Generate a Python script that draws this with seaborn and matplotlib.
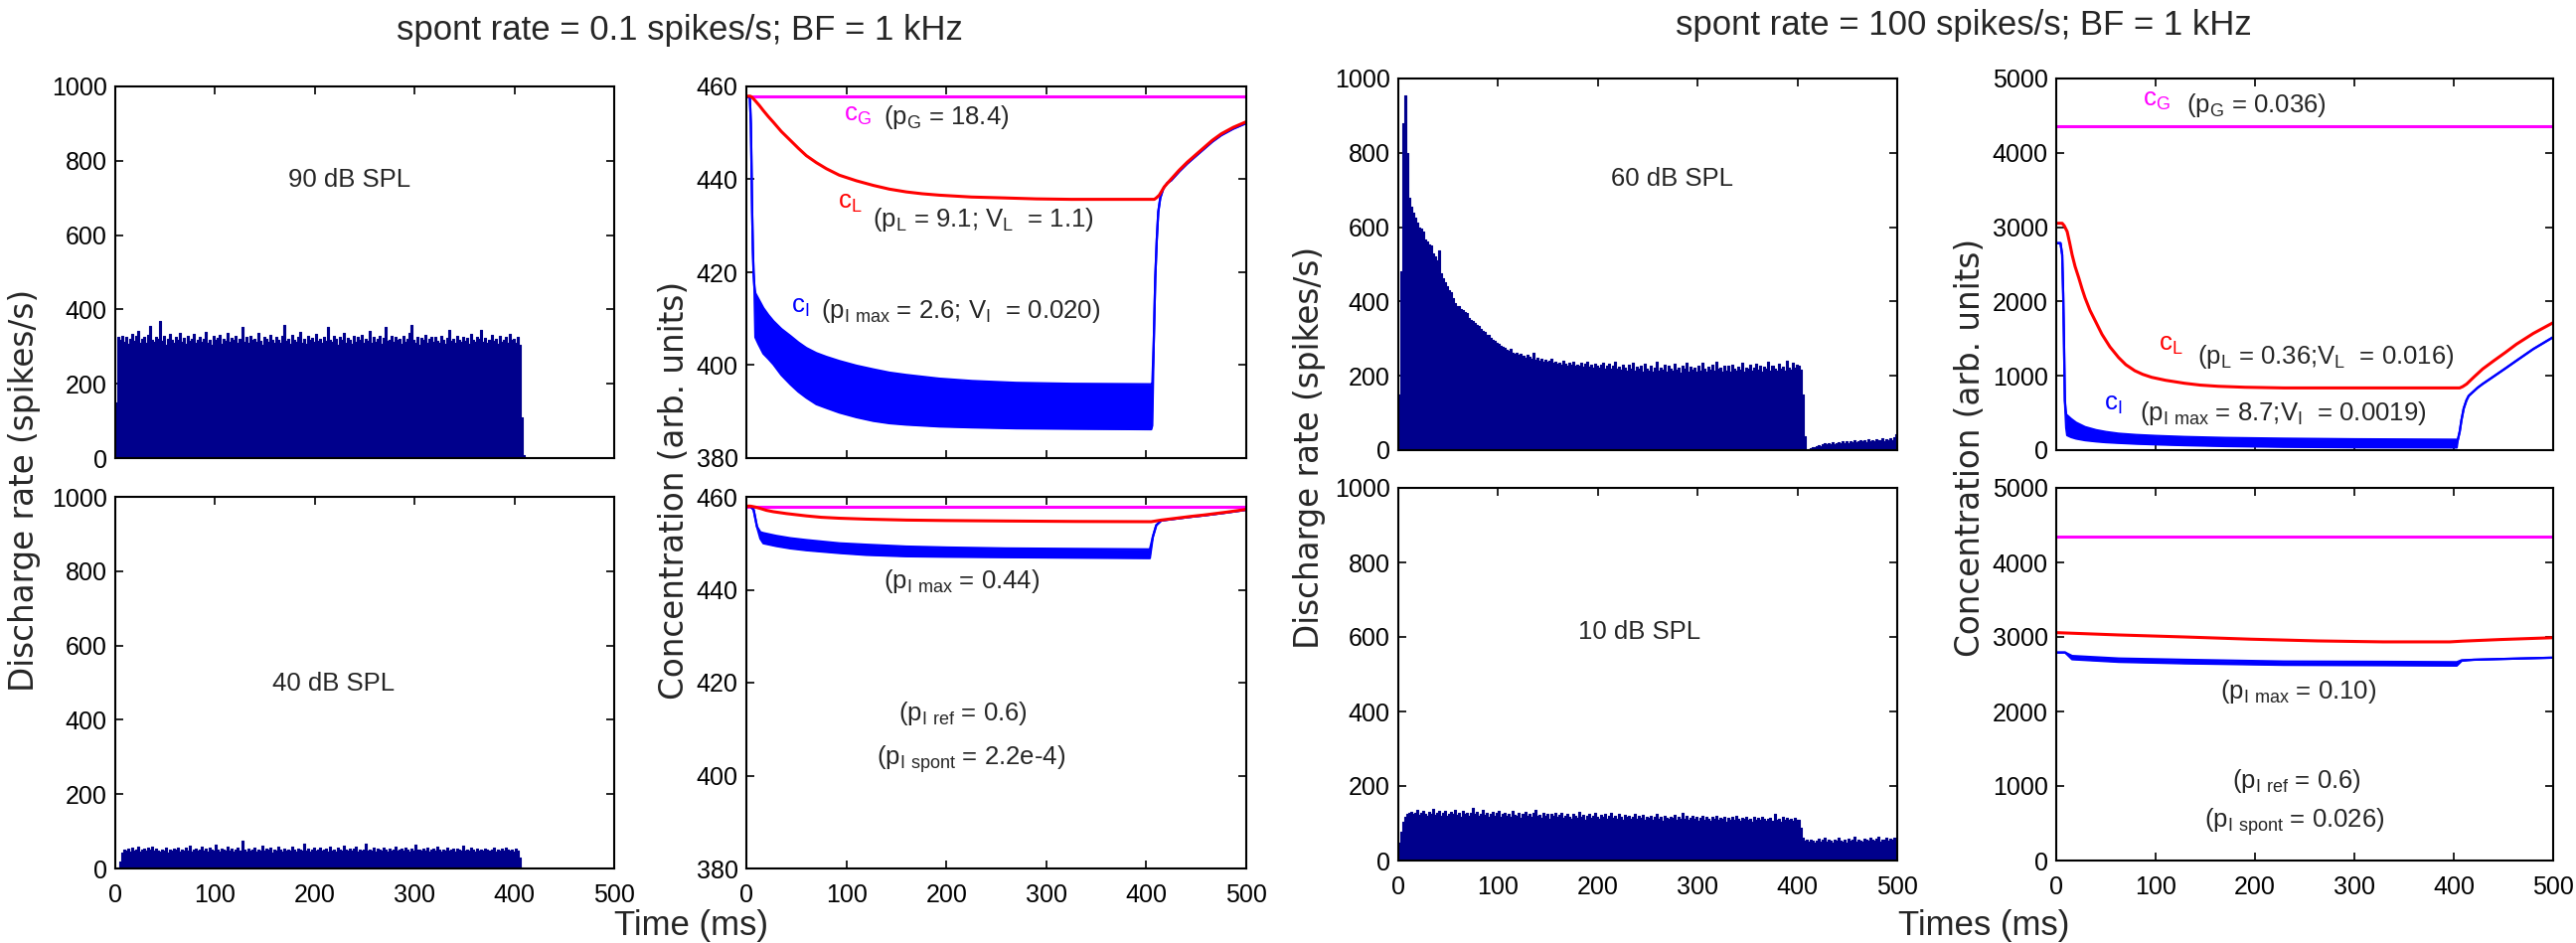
import numpy as np
import pandas as pd
import matplotlib
matplotlib.use("Agg")
import matplotlib.pyplot as plt
import seaborn as sns

# ---------------- data ----------------
BIN_MS = 2  # PSTH bin width (ms)
TIME_TICKS = [0, 100, 200, 300, 400, 500]
RATE_TICKS = [0, 200, 400, 600, 800, 1000]
CONC_TICKS_LOW = [380, 400, 420, 440, 460]
CONC_TICKS_HIGH = [0, 1000, 2000, 3000, 4000, 5000]

# spont 0.1 sp/s fiber, 90 dB SPL (2 ms bins from t = 0)
RATE_90DB = [150, 325,
    318, 330, 312, 325, 308, 322, 335, 316, 328, 342, 311, 320, 326, 309, 331, 355, 318, 314, 327, 321,
    368, 315, 329, 306, 322, 333, 317, 310, 326, 319, 338, 312, 324, 307, 329, 316, 321, 334, 309, 318,
    327, 313, 322, 340, 311, 319, 306, 328, 317, 324, 331, 308, 320, 315, 336, 312, 323, 318, 329, 310,
    321, 354, 314, 326, 309, 330, 318, 322, 312, 337, 316, 305, 327, 320, 313, 332, 319, 311, 325, 317,
    310, 328, 358, 316, 322, 308, 331, 319, 314, 326, 339, 311, 320, 307, 329, 318, 324, 312, 333, 316,
    321, 309, 327, 315, 354, 318, 312, 330, 322, 306, 325, 317, 336, 311, 323, 319, 308, 328, 314, 326,
    318, 331, 310, 322, 316, 341, 309, 325, 313, 320, 328, 307, 324, 352, 315, 319, 330, 312, 326, 317,
    322, 308, 329, 314, 321, 336, 359, 318, 311, 326, 305, 323, 317, 332, 310, 320, 327, 313, 325, 316,
    311, 328, 319, 307, 324, 345, 315, 321, 309, 330, 318, 312, 326, 316, 323, 308, 335, 319, 314, 327,
    320, 346, 312, 324, 309, 318, 331, 315, 322, 307, 328, 313, 319, 326, 311, 333, 317, 321, 310, 325,
    305, 110, 8]

# spont 0.1 sp/s fiber, 40 dB SPL
RATE_40DB = [0, 2, 18, 42,
    50, 47, 53, 45, 55, 49, 52, 58, 46, 51, 54, 48, 56, 50, 60, 47, 53, 49, 45, 52,
    48, 55, 44, 51, 47, 53, 50, 57, 46, 52, 49, 55, 48, 61, 45, 50, 54, 47, 52, 58,
    49, 53, 46, 56, 51, 48, 63, 50, 45, 54, 52, 47, 58, 49, 53, 46, 51, 55, 48, 75,
    50, 46, 54, 48, 52, 57, 45, 51, 49, 62, 47, 53, 50, 56, 44, 52, 48, 59, 51, 46,
    54, 49, 52, 47, 60, 50, 45, 53, 51, 48, 66, 49, 54, 46, 52, 57, 48, 51, 55, 47,
    50, 53, 46, 58, 49, 52, 45, 55, 51, 48, 62, 50, 47, 54, 49, 53, 58, 46, 51, 48,
    52, 67, 47, 51, 49, 55, 46, 53, 50, 48, 57, 51, 45, 54, 49, 52, 60, 47, 50, 53,
    48, 55, 51, 46, 53, 49, 63, 50, 52, 47, 54, 49, 56, 45, 51, 53, 48, 58, 50, 46,
    52, 49, 55, 47, 51, 54, 46, 53, 50, 48, 61, 49, 52, 47, 55, 50, 46, 53, 49, 51,
    47, 54, 50, 48, 52, 56, 46, 51, 49, 53, 47, 55, 50, 48, 52, 46, 54, 49,
    30, 3]

# spont 100 sp/s fiber, 60 dB SPL
RATE_60DB = [150, 480, 880, 955, 800, 680, 655, 640, 625, 612,
    600, 596, 588, 568, 562, 553, 550, 530, 522, 512,
    538, 476, 462, 452, 440, 430, 424, 410, 396, 388,
    388, 381, 377, 372, 368, 356, 351, 348, 343, 336,
    333, 326, 321, 318, 311, 309, 302, 297, 294, 288,
    287, 281, 279, 276, 270, 268, 272, 263, 259, 262,
    257, 260, 253, 249, 256, 251, 246, 262, 244, 248,
    241, 246, 239, 243, 237, 240, 245, 234, 238, 232,
    236, 229, 240, 233, 227, 235, 230, 238, 226, 231,
    228, 234, 225, 232, 239, 224, 229, 221, 233, 227,
    222, 230, 236, 219, 226, 232, 220, 228, 237, 218,
    225, 216, 231, 221, 214, 229, 219, 235, 213, 224,
    218, 227, 212, 233, 220, 215, 228, 210, 222, 238,
    214, 223, 217, 230, 211, 226, 219, 213, 232, 216,
    221, 209, 228, 218, 236, 212, 225, 217, 222, 210,
    227, 215, 234, 219, 211, 224, 216, 229, 213, 237,
    218, 222, 210, 228, 215, 226, 212, 231, 219, 214,
    225, 217, 236, 212, 223, 219, 229, 214, 221, 233,
    216, 227, 211, 224, 218, 238, 213, 226, 220, 215,
    232, 219, 225, 214, 240, 221, 217, 236, 223, 229,
    228, 217, 150, 38, 0, 2, 5, 7, 9, 11,
    14, 12, 16, 18, 15, 19, 17, 21, 16, 20,
    22, 18, 24, 20, 23, 19, 25, 21, 26, 22,
    24, 28, 23, 26, 21, 29, 25, 27, 24, 30,
    26, 28, 31, 25, 29, 27, 32, 28, 35, 44]

# spont 100 sp/s fiber, 10 dB SPL
RATE_10DB = [48, 78, 104, 116, 124,
    127, 131, 124, 129, 135, 122, 128, 133, 126, 120,
    130, 125, 138, 123, 129, 134, 121, 127, 132, 119,
    126, 131, 124, 136, 122, 128, 118, 133, 125, 129,
    121, 127, 140, 124, 130, 119, 126, 135, 122, 128,
    117, 125, 131, 120, 127, 134, 118, 124, 129, 121,
    126, 116, 132, 123, 119, 128, 114, 125, 130, 120,
    124, 117, 127, 135, 119, 123, 115, 128, 121, 126,
    113, 124, 119, 129, 116, 122, 127, 114, 120, 125,
    118, 112, 126, 121, 115, 131, 117, 123, 110, 119,
    124, 114, 120, 127, 116, 111, 122, 118, 125, 113,
    119, 128, 115, 121, 112, 124, 117, 109, 122, 116,
    120, 113, 118, 126, 111, 119, 115, 123, 108, 117,
    114, 121, 110, 118, 125, 112, 116, 107, 120, 115,
    111, 118, 114, 122, 109, 116, 112, 127, 113, 119,
    108, 115, 120, 111, 117, 106, 114, 119, 110, 116,
    113, 107, 118, 112, 121, 109, 115, 111, 117, 105,
    114, 110, 116, 108, 119, 112, 106, 115, 111, 118,
    109, 113, 104, 117, 110, 114, 108, 116, 112, 106,
    111, 115, 107, 124, 109, 113, 105, 116, 110, 114,
    108, 112, 106, 115, 109,
    110, 88, 60,
    52, 55, 50, 57, 53, 49, 54, 58, 51, 56, 62, 50, 55, 53, 48, 57, 52, 60, 54, 51,
    56, 49, 58, 53, 55, 63, 51, 57, 54, 50, 59, 55, 52, 61, 56, 53, 58, 64, 51, 57,
    55, 60, 53, 58, 56, 62, 54]

# concentrations, spont 0.1 sp/s (90 dB)
CG_LOW = 457.9
E_T_L = [0, 4, 6, 9, 13, 17, 22, 27, 35, 44, 52, 60, 70, 80, 93, 110, 127, 143, 160, 176, 193,
         225, 259, 290, 325, 408, 410, 413, 418, 425, 433, 441, 450, 458, 466, 475, 487, 500]
E_C_L = [457.9, 457.9, 457.6, 456.9, 455.9, 454.8, 453.5, 452.3, 450.3, 448.4, 446.7, 445.1, 443.6,
         442.3, 440.9, 439.7, 438.7, 437.9, 437.3, 436.9, 436.6, 436.2, 436.0, 435.8, 435.7, 435.7,
         436.0, 436.6, 438.4, 440.1, 442.0, 443.7, 445.4, 446.9, 448.4, 449.8, 451.2, 452.4]
E_T_I = [0, 3.5, 4.5, 5, 5.8, 6.5, 7.2, 8, 9, 12, 17, 22, 27, 35, 44, 52, 60, 70, 80, 93, 110,
         127, 143, 160, 193, 226, 270, 325, 405, 406, 407.5, 409, 410.5, 412, 414, 417, 421, 425,
         433, 441, 450, 458, 466, 475, 487, 500]
E_CI_HI = [457.9, 457.6, 452, 445, 433, 425, 420, 417, 415.5, 414.3, 412.3, 410.8, 409.5, 407.8,
           406.3, 404.9, 403.7, 402.6, 401.8, 400.9, 399.9, 399.1, 398.4, 397.9, 397.1, 396.6,
           396.2, 396.0, 395.9, 396.0, 405, 418.8, 427, 433, 436, 438, 439.2, 439.8, 441.7,
           443.4, 445.1, 446.6, 448.1, 449.5, 450.9, 452.1]
E_CI_LO = [457.9, 457.6, 452, 445, 433, 425, 420, 417, 406.0, 404.6, 402.5, 401.4, 400.2, 397.9,
           395.9, 394.3, 393.0, 391.6, 390.8, 389.8, 388.8, 388.0, 387.5, 387.2, 386.8, 386.6,
           386.4, 386.3, 386.2, 387.0, 405, 418.8, 427, 433, 436, 438, 439.2, 439.8, 441.7,
           443.4, 445.1, 446.6, 448.1, 449.5, 450.9, 452.1]

# concentrations, spont 0.1 sp/s (40 dB)
F_T_L = [0, 4, 9, 14, 20, 27, 40, 60, 75, 93, 120, 160, 200, 259, 330, 405, 415, 430, 445, 458,
         480, 500]
F_C_L = [458.0, 458.0, 457.8, 457.5, 457.1, 456.8, 456.4, 455.9, 455.6, 455.4, 455.2, 455.0, 454.9,
         454.8, 454.7, 454.65, 455.0, 455.4, 455.8, 456.1, 456.7, 457.3]
F_T_I = [0, 4, 7.3, 10.6, 14, 17, 30, 44, 60, 93, 120, 160, 200, 259, 330, 402, 403.6, 406.6, 410,
         415, 430, 445, 458, 480, 500]
F_CI_HI = [458.0, 458.0, 457.2, 453.6, 452.4, 452.2, 451.6, 451.1, 450.7, 450.0, 449.7, 449.3,
           449.1, 448.9, 448.8, 448.7, 448.7, 451.4, 453.9, 454.9, 455.3, 455.7, 456.0, 456.6, 457.2]
F_CI_LO = [458.0, 458.0, 457.2, 453.6, 451.0, 450.0, 449.4, 448.9, 448.5, 447.9, 447.5, 447.2,
           447.1, 447.0, 446.9, 446.8, 446.8, 451.4, 453.9, 454.9, 455.3, 455.7, 456.0, 456.6, 457.2]

# concentrations, spont 100 sp/s (60 dB)
CG_HIGH = 4352
G_T_L = [0, 6, 8, 11, 13.5, 16, 19, 22.7, 26, 29, 34, 40, 46, 54, 62.7, 70, 79, 87, 96, 110, 129,
         145, 163, 190, 229, 329, 406, 409, 413, 420, 429, 440, 452, 463, 480, 500]
G_C_L = [3052, 3052, 3020, 2941, 2790, 2628, 2470, 2317, 2170, 2049, 1880, 1720, 1559, 1390, 1247,
         1150, 1069, 1020, 980, 940, 900, 875, 859, 846, 837, 837, 837, 855, 890, 980, 1091, 1200,
         1315, 1425, 1570, 1715]
G_T_I = [0, 4.3, 6, 7, 7.7, 8.2, 8.7, 10, 11, 15, 20, 29, 40, 50, 62.7, 80, 100, 129, 170, 229,
         300, 403, 404, 406, 407.7, 410, 412.7, 415, 419, 424, 429, 440, 452, 463, 480, 500]
G_CI_HI = [2785, 2785, 2628, 2100, 1559, 1100, 668, 480, 468, 420, 370, 311, 270, 245, 222, 205,
           192, 178, 165, 155, 147, 141, 133, 250, 401, 560, 668, 730, 779, 840, 890, 990, 1100,
           1203, 1360, 1520]
G_CI_LO = [2785, 2785, 2628, 2100, 1559, 1100, 668, 300, 200, 175, 155, 133, 117, 106, 97, 86,
           77, 66, 54, 44, 38, 35, 133, 250, 401, 560, 668, 730, 779, 840, 890, 990, 1100,
           1203, 1360, 1520]

# concentrations, spont 100 sp/s (10 dB)
H_T_L = [0, 62.7, 129, 196, 263, 329, 396, 409, 446, 500]
H_C_L = [3058, 3027, 3000, 2970, 2947, 2934, 2934, 2944, 2965, 2990]
H_T_I = [0, 9, 16, 63, 129, 229, 329, 403, 408, 420, 450, 500]
H_CI_HI = [2791, 2791, 2745, 2711, 2694, 2671, 2667, 2662, 2688, 2694, 2705, 2722]
H_CI_LO = [2791, 2791, 2700, 2665, 2645, 2625, 2620, 2615, 2680, 2694, 2705, 2722]

# ---------------- style ----------------
sns.set_theme(style="ticks")
plt.rcParams['font.family'] = ['Liberation Sans', 'DejaVu Sans']
plt.rcParams['mathtext.default'] = 'regular'
plt.rcParams['axes.linewidth'] = 1.5

NAVY = '#00008C'
MAG = '#FF00FF'
RED = '#FF0000'
BLUE = '#0000FF'
W, H = 2592, 949
TICK_FS = 18
TXT_FS = 18.5

fig = plt.figure(figsize=(W / 100, H / 100), dpi=100)
fig.patch.set_facecolor('white')


def add_ax(x0, y0, x1, y1):
    return fig.add_axes([x0 / W, 1 - y1 / H, (x1 - x0) / W, (y1 - y0) / H])


def style_ax(ax, yticks, ylim, show_x):
    ax.set_xlim(0, 500)
    ax.set_ylim(*ylim)
    ax.set_xticks(TIME_TICKS)
    ax.set_yticks(yticks)
    ax.set_xlabel('')
    ax.set_ylabel('')
    ax.set_facecolor('white')
    for s in ax.spines.values():
        s.set_visible(True)
        s.set_color('black')
        s.set_linewidth(1.5)
    ax.tick_params(direction='in', length=6, width=1.2, top=True, right=True,
                   labelsize=TICK_FS, colors='black')
    ax.tick_params(axis='x', pad=11, labelbottom=show_x)
    ax.tick_params(axis='y', pad=6)
    ax.grid(False)


def psth(ax, vals):
    vals = np.asarray(vals, float)
    starts = np.arange(len(vals)) * BIN_MS
    df = pd.DataFrame({'t': starts + BIN_MS / 2, 'rate': vals})
    sns.histplot(data=df, x='t', weights='rate', binwidth=BIN_MS,
                 binrange=(0, len(vals) * BIN_MS), element='step', fill=True,
                 color=NAVY, alpha=1.0, linewidth=0.8, edgecolor=NAVY, ax=ax)


def conc(ax, cg, tL, cL, tI, hi, lo):
    sns.lineplot(x=[0, 500], y=[cg, cg], color=MAG, linewidth=2.2, ax=ax)
    ax.fill_between(tI, lo, hi, color=BLUE, linewidth=0)
    sns.lineplot(x=tI, y=hi, color=BLUE, linewidth=1.6, estimator=None, sort=False, ax=ax)
    sns.lineplot(x=tI, y=lo, color=BLUE, linewidth=1.6, estimator=None, sort=False, ax=ax)
    sns.lineplot(x=tL, y=cL, color=RED, linewidth=2.2, estimator=None, sort=False, ax=ax)


# ---------- left block: spont 0.1 ----------
axA = add_ax(116, 87, 618, 461)
psth(axA, RATE_90DB)
style_ax(axA, RATE_TICKS, (0, 1000), False)
axA.text(235, 729, '90 dB SPL', ha='center', va='baseline', fontsize=TXT_FS)

axE = add_ax(751, 87, 1254, 461)
conc(axE, CG_LOW, E_T_L, E_C_L, E_T_I, E_CI_HI, E_CI_LO)
style_ax(axE, CONC_TICKS_LOW, (380, 460), False)
axE.text(97, 452.5, 'c$_{G}$', color=MAG, fontsize=TXT_FS, va='baseline')
axE.text(137, 451.9, '(p$_{G}$ = 18.4)', fontsize=TXT_FS, va='baseline')
axE.text(91, 433.7, 'c$_{L}$', color=RED, fontsize=TXT_FS, va='baseline')
axE.text(126, 429.8, '(p$_{L}$ = 9.1; V$_{L}$  = 1.1)', fontsize=TXT_FS, va='baseline')
axE.text(45, 411.2, 'c$_{I}$', color=BLUE, fontsize=TXT_FS, va='baseline')
axE.text(74.5, 410.2, '(p$_{I\\ max}$ = 2.6; V$_{I}$  = 0.020)', fontsize=TXT_FS, va='baseline')

axB = add_ax(116, 500, 618, 874)
psth(axB, RATE_40DB)
style_ax(axB, RATE_TICKS, (0, 1000), True)
axB.text(219, 479, '40 dB SPL', ha='center', va='baseline', fontsize=TXT_FS)

axF = add_ax(751, 500, 1254, 874)
conc(axF, CG_LOW, F_T_L, F_C_L, F_T_I, F_CI_HI, F_CI_LO)
style_ax(axF, CONC_TICKS_LOW, (380, 460), True)
axF.text(215, 440.4, '(p$_{I\\ max}$ = 0.44)', ha='center', fontsize=TXT_FS, va='baseline')
axF.text(217, 411.9, '(p$_{I\\ ref}$ = 0.6)', ha='center', fontsize=TXT_FS, va='baseline')
axF.text(225, 402.2, '(p$_{I\\ spont}$ = 2.2e-4)', ha='center', fontsize=TXT_FS, va='baseline')

# ---------- right block: spont 100 ----------
axC = add_ax(1407, 79, 1909, 453)
psth(axC, RATE_60DB)
style_ax(axC, RATE_TICKS, (0, 1000), False)
axC.text(274, 710, '60 dB SPL', ha='center', va='baseline', fontsize=TXT_FS)

axG = add_ax(2069, 79, 2569, 453)
conc(axG, CG_HIGH, G_T_L, G_C_L, G_T_I, G_CI_HI, G_CI_LO)
style_ax(axG, CONC_TICKS_HIGH, (0, 5000), False)
axG.text(87, 4634, 'c$_{G}$', color=MAG, fontsize=TXT_FS, va='baseline')
axG.text(131, 4545, '(p$_{G}$ = 0.036)', fontsize=TXT_FS, va='baseline')
axG.text(103, 1337, 'c$_{L}$', color=RED, fontsize=TXT_FS, va='baseline')
axG.text(142, 1158, '(p$_{L}$ = 0.36;V$_{L}$  = 0.016)', fontsize=TXT_FS, va='baseline')
axG.text(48, 534, 'c$_{I}$', color=BLUE, fontsize=TXT_FS, va='baseline')
axG.text(84, 401, '(p$_{I\\ max}$ = 8.7;V$_{I}$  = 0.0019)', fontsize=TXT_FS, va='baseline')

axD = add_ax(1407, 491, 1909, 866)
psth(axD, RATE_10DB)
style_ax(axD, RATE_TICKS, (0, 1000), True)
axD.text(242, 595, '10 dB SPL', ha='center', va='baseline', fontsize=TXT_FS)

axH = add_ax(2069, 491, 2569, 866)
conc(axH, CG_HIGH, H_T_L, H_C_L, H_T_I, H_CI_HI, H_CI_LO)
style_ax(axH, CONC_TICKS_HIGH, (0, 5000), True)
axH.text(244, 2170, '(p$_{I\\ max}$ = 0.10)', ha='center', fontsize=TXT_FS, va='baseline')
axH.text(242, 970, '(p$_{I\\ ref}$ = 0.6)', ha='center', fontsize=TXT_FS, va='baseline')
axH.text(240, 437, '(p$_{I\\ spont}$ = 0.026)', ha='center', fontsize=TXT_FS, va='baseline')

# ---------- figure-level labels ----------
fig.text(684 / W, 1 - 40 / H, 'spont rate = 0.1 spikes/s; BF = 1 kHz', ha='center', va='baseline', fontsize=25)
fig.text(1976 / W, 1 - 35 / H, 'spont rate = 100 spikes/s; BF = 1 kHz', ha='center', va='baseline', fontsize=25)

YL_FS = 23.5
fig.text(25 / W, 1 - 493 / H, 'Discharge rate (spikes/s)', rotation=90, ha='center', va='center',
         fontsize=YL_FS, family='DejaVu Sans')
fig.text(678 / W, 1 - 493 / H, 'Concentration (arb. units)', rotation=90, ha='center', va='center',
         fontsize=YL_FS, family='DejaVu Sans')
fig.text(1318 / W, 1 - 450 / H, 'Discharge rate (spikes/s)', rotation=90, ha='center', va='center',
         fontsize=YL_FS, family='DejaVu Sans')
fig.text(1982 / W, 1 - 450 / H, 'Concentration (arb. units)', rotation=90, ha='center', va='center',
         fontsize=YL_FS, family='DejaVu Sans')

fig.text(695 / W, 1 - 941 / H, 'Time (ms)', ha='center', va='baseline', fontsize=25)
fig.text(1996 / W, 1 - 941 / H, 'Times (ms)', ha='center', va='baseline', fontsize=25)

fig.savefig('out.png', dpi=100, facecolor='white')
